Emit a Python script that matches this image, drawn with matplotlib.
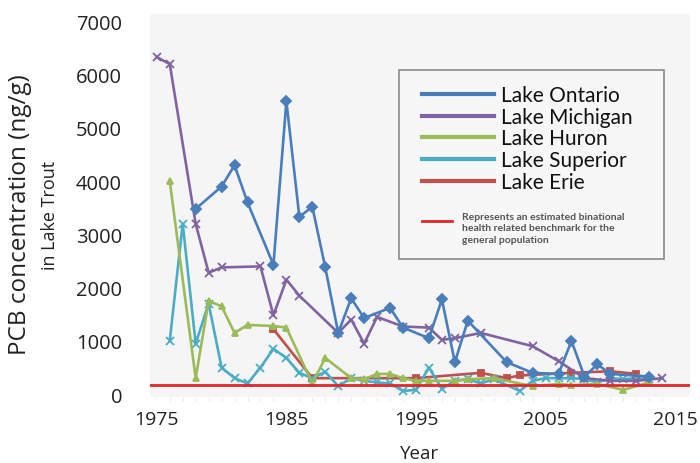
import numpy as np
import matplotlib.pyplot as plt
from matplotlib.lines import Line2D

# PCB concentration (ng/g) in lake trout, by lake
ontario_years = [1978, 1980, 1981, 1982, 1984, 1985, 1986, 1987, 1988, 1989, 1990, 1991,
                 1993, 1994, 1996, 1997, 1998, 1999, 2002, 2004, 2006, 2007, 2008, 2009,
                 2010, 2013]
ontario_pcb = [3480, 3900, 4300, 3600, 2430, 5500, 3330, 3520, 2380, 1150, 1800, 1430,
               1620, 1250, 1050, 1780, 600, 1380, 600, 400, 380, 1000, 330, 560,
               380, 330]

michigan_years = [1975, 1976, 1978, 1979, 1980, 1983, 1984, 1985, 1986, 1989, 1990, 1991,
                  1992, 1994, 1996, 1997, 1998, 2000, 2004, 2006, 2008, 2010, 2012, 2014]
michigan_pcb = [6330, 6200, 3200, 2280, 2380, 2400, 1480, 2150, 1850, 1150, 1400, 950,
                1450, 1270, 1250, 1020, 1050, 1150, 900, 620, 300, 250, 250, 300]

huron_years = [1976, 1978, 1979, 1980, 1981, 1982, 1984, 1985, 1987, 1988, 1990, 1991,
               1992, 1993, 1994, 1995, 1996, 1998, 1999, 2001, 2004, 2006, 2007, 2009,
               2011, 2013]
huron_pcb = [4000, 300, 1750, 1650, 1150, 1300, 1280, 1250, 200, 680, 300, 280,
             380, 380, 300, 250, 250, 250, 280, 300, 150, 190, 170, 190,
             80, 220]

superior_years = [1976, 1977, 1978, 1979, 1980, 1981, 1982, 1983, 1984, 1985, 1986, 1987,
                  1988, 1989, 1990, 1991, 1992, 1993, 1994, 1995, 1996, 1997, 1998, 1999,
                  2000, 2001, 2003, 2004, 2005, 2006, 2007, 2008, 2009, 2010, 2011, 2012,
                  2013]
superior_pcb = [1000, 3200, 950, 1700, 500, 300, 200, 500, 850, 680, 400, 300,
                420, 150, 300, 250, 220, 200, 60, 80, 500, 100, 250, 280,
                200, 280, 60, 250, 300, 300, 300, 280, 220, 300, 280, 300,
                280]

erie_years = [1984, 1987, 1995, 2000, 2002, 2003, 2007, 2010, 2012]
erie_pcb = [1220, 300, 300, 400, 300, 350, 400, 430, 380]

benchmark = 170

lakes = ["Lake Ontario", "Lake Michigan", "Lake Huron", "Lake Superior", "Lake Erie"]
colors = ["#4a7ebb", "#8064a2", "#9bbb59", "#4bacc6", "#c0504d"]
markers = ["D", "x", "^", "x", "s"]
series = [(ontario_years, ontario_pcb), (michigan_years, michigan_pcb),
          (huron_years, huron_pcb), (superior_years, superior_pcb),
          (erie_years, erie_pcb)]

W, H = 700, 464


def fx(px):
    return px / W


def fy(py):
    return 1 - py / H


fig = plt.figure(figsize=(7, 4.64), dpi=100)
ax = fig.add_axes([0.214, 0.142, 0.772, 0.826])
ax.set_facecolor("#f5f5f5")

# draw in reverse so Ontario sits on top
for (yrs, vals), c, m in reversed(list(zip(series, colors, markers))):
    ax.plot(yrs, vals, color=c, lw=1.9, marker=m, ms=5 if m != "x" else 6,
            mew=1.3, zorder=3)

ax.axhline(benchmark, color="#e3262b", lw=2, zorder=4)

ax.set_xlim(1974.46, 2016.16)
ax.set_ylim(-56, 7143)
ax.set_xticks([1975, 1985, 1995, 2005, 2015])
ax.set_yticks(np.arange(0, 7001, 1000))
ax.set_xticks(np.arange(1975, 2016), minor=True)
for s in ax.spines.values():
    s.set_visible(False)
ax.tick_params(axis="y", which="major", length=0, labelsize=14.5, colors="#222222",
               pad=20)
ax.tick_params(axis="x", which="major", length=0, labelsize=14, colors="#222222",
               pad=9)
ax.tick_params(axis="x", which="minor", length=3, color="#e6e6e6")
for lab in ax.get_xticklabels() + ax.get_yticklabels():
    lab.set_family("Open Sans")

ax.set_xlabel("Year", fontsize=13.5, family="Open Sans", color="#222222", labelpad=12)
fig.text(fx(20), fy(215), "PCB concentration (ng/g)", rotation=90, ha="center",
         va="center", fontsize=17.5, family="Open Sans", color="#222222")
fig.text(fx(50), fy(215), "in Lake Trout", rotation=90, ha="center", va="center",
         fontsize=13, family="Open Sans", color="#222222")

# legend box, drawn by hand
box = plt.Rectangle((fx(399), fy(260)), fx(265), 189 / H,
                    transform=fig.transFigure, facecolor="#f7f7f7",
                    edgecolor="#8a8a8a", lw=1.2, zorder=5)
fig.patches.append(box)
row_y = [95, 117, 138, 160, 182]
for name, c, py in zip(lakes, colors, row_y):
    fig.add_artist(Line2D([fx(422), fx(494)], [fy(py), fy(py)], color=c, lw=3,
                          transform=fig.transFigure, zorder=6))
    fig.text(fx(501), fy(py + 1), name, ha="left", va="center", fontsize=15,
             family="Lato", color="#111111", zorder=6)
fig.add_artist(Line2D([fx(422), fx(452)], [fy(222), fy(222)], color="#e3262b", lw=2,
                      transform=fig.transFigure, zorder=6))
fig.text(fx(462), fy(229),
         "Represents an estimated binational\nhealth related benchmark for the\n"
         "general population", ha="left", va="center", fontsize=7.5,
         family="Lato", weight="bold", color="#555555", linespacing=1.35, zorder=6)

fig.savefig("out.png", dpi=100)
